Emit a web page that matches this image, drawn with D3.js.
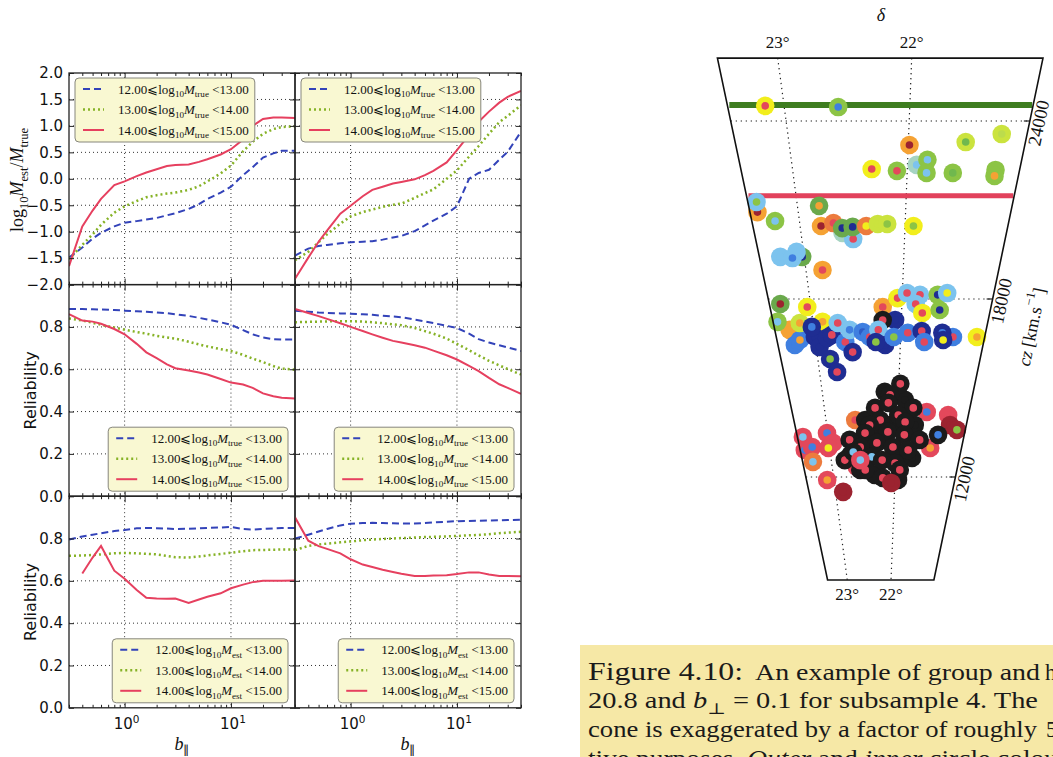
<!DOCTYPE html>
<html><head><meta charset="utf-8">
<script src="https://cdn.jsdelivr.net/npm/d3@7/dist/d3.min.js"></script>
<style>html,body{margin:0;padding:0;background:#fff;}svg{display:block;}</style>
</head><body>
<svg id="fig" width="1053" height="757"></svg>
<script>
// ================= DATA =================
const bPar=[0.3,0.4,0.5,0.6,0.8,1,1.3,1.6,2,2.5,3,4,5,6,8,10,13,16,20,25,30,40];
const massBins=["12.00","13.00","14.00","15.00"];

// log10 Mest/Mtrue  (left / right)
const ratioL_12=[-1.49,-1.3,-1.13,-1.02,-0.9,-0.83,-0.8,-0.77,-0.74,-0.69,-0.65,-0.57,-0.48,-0.38,-0.26,-0.15,0.07,0.22,0.4,0.48,0.53,0.53];
const ratioL_13=[-1.52,-1.25,-1.05,-0.87,-0.64,-0.52,-0.42,-0.35,-0.31,-0.28,-0.26,-0.21,-0.14,-0.05,0.1,0.25,0.52,0.7,0.85,0.94,0.98,0.99];
const ratioL_14=[-1.65,-0.9,-0.6,-0.38,-0.12,-0.05,0.05,0.12,0.18,0.24,0.26,0.27,0.32,0.37,0.46,0.56,0.74,1.0,1.13,1.16,1.16,1.15];
const ratioR_12=[-1.45,-1.32,-1.27,-1.25,-1.22,-1.2,-1.19,-1.18,-1.15,-1.11,-1.08,-0.99,-0.88,-0.79,-0.66,-0.52,0.0,0.11,0.17,0.36,0.51,0.89];
const ratioR_13=[-1.54,-1.38,-1.2,-1.05,-0.85,-0.71,-0.63,-0.58,-0.53,-0.49,-0.47,-0.36,-0.27,-0.2,0.0,0.16,0.42,0.62,0.85,1.07,1.19,1.39];
const ratioR_14=[-1.89,-1.49,-1.19,-0.98,-0.66,-0.51,-0.33,-0.21,-0.15,-0.09,-0.06,-0.01,0.07,0.15,0.31,0.54,0.83,1.08,1.27,1.44,1.55,1.66];

// Reliability, binned in Mtrue
const relTrueL_12=[0.885,0.885,0.883,0.882,0.88,0.877,0.874,0.872,0.868,0.865,0.86,0.852,0.843,0.835,0.822,0.81,0.785,0.765,0.75,0.742,0.74,0.74];
const relTrueL_13=[0.84,0.83,0.82,0.81,0.797,0.787,0.776,0.768,0.758,0.75,0.745,0.73,0.717,0.708,0.695,0.686,0.668,0.65,0.634,0.615,0.603,0.598];
const relTrueL_14=[0.86,0.83,0.825,0.815,0.79,0.765,0.72,0.68,0.652,0.623,0.605,0.594,0.585,0.575,0.554,0.537,0.528,0.512,0.486,0.472,0.465,0.462];
const relTrueR_12=[0.877,0.872,0.868,0.866,0.864,0.862,0.86,0.857,0.853,0.849,0.846,0.835,0.826,0.818,0.805,0.795,0.768,0.742,0.726,0.713,0.703,0.686];
const relTrueR_13=[0.822,0.824,0.825,0.826,0.827,0.827,0.825,0.822,0.818,0.812,0.808,0.795,0.78,0.768,0.745,0.72,0.69,0.665,0.64,0.618,0.601,0.575];
const relTrueR_14=[0.885,0.866,0.851,0.838,0.817,0.8,0.781,0.765,0.749,0.734,0.726,0.713,0.702,0.688,0.666,0.646,0.616,0.591,0.559,0.529,0.512,0.484];

// Reliability, binned in Mest
const relEstL_12=[0.795,0.81,0.818,0.825,0.835,0.84,0.848,0.85,0.849,0.847,0.845,0.846,0.848,0.85,0.852,0.855,0.845,0.842,0.845,0.848,0.85,0.85];
const relEstL_13=[0.718,0.72,0.722,0.725,0.73,0.732,0.73,0.728,0.725,0.718,0.712,0.71,0.715,0.72,0.727,0.733,0.74,0.745,0.746,0.747,0.748,0.748];
const relEstL_14=[null,0.635,0.71,0.765,0.648,0.61,0.557,0.52,0.516,0.515,0.516,0.496,0.512,0.525,0.541,0.565,0.582,0.594,0.6,0.6,0.6,0.602];
const relEstR_12=[0.8,0.818,0.833,0.845,0.862,0.87,0.873,0.874,0.873,0.872,0.871,0.871,0.873,0.876,0.879,0.882,0.883,0.884,0.885,0.886,0.887,0.889];
const relEstR_13=[0.745,0.765,0.772,0.776,0.782,0.786,0.792,0.795,0.798,0.8,0.802,0.805,0.807,0.808,0.81,0.812,0.815,0.817,0.82,0.825,0.828,0.832];
const relEstR_14=[0.9,0.79,0.764,0.751,0.73,0.702,0.677,0.665,0.652,0.642,0.634,0.623,0.623,0.625,0.627,0.632,0.64,0.64,0.63,0.623,0.623,0.622];

const yTicksRatio=[-2,-1.5,-1,-0.5,0,0.5,1,1.5,2];
const yTicksRel=[0,0.2,0.4,0.6,0.8,1];
const xMajor=[1,10];
const xMinor=[0.3,0.4,0.5,0.6,0.7,0.8,0.9,2,3,4,5,6,7,8,9,20,30,40];

// Cone diagram
const coneDecTicks=[23,22];
const coneCzTicks=[24000,18000,12000];
const coneDecRange=[23.45,21.02];
const coneCzRange=[8530,26120];
const boundaryCz=[24540,21480];
const coneColors={Y:"#f2ee1c",L:"#cbe33e",L2:"#bcdc4c",G:"#8cc445",G2:"#70b84e",DG:"#6aa94c",T:"#a6d4c2",
  O:"#f5a234",DO:"#ec7b3e",R:"#e3485b",DR:"#9c2330",LB:"#7cc3ee",B:"#3f7fe0",B2:"#2d5cc6",NB:"#1f2d92",K:"#1b1b1b"};
// [declination, cz, outer colour, inner colour]
const coneGroups=[
 [23.15,24510,"Y","R"],[22.57,24470,"G","B"],
 [21.99,23190,"O","DR"],[21.23,23560,"L","L2"],[21.52,23290,"L","G2"],
 [22.31,22380,"Y","R"],[22.09,22320,"G","R"],[21.92,22520,"T","LB"],[21.83,22690,"G","LB"],[21.83,22250,"G","LB"],
 [21.60,22250,"G","G2"],[21.23,22350,"G","G"],[21.23,22150,"G","O"],
 [23.38,20930,"O","DR"],[23.37,21270,"LB","G"],[23.23,20630,"G","LB"],[22.80,21140,"DG","O"],
 [22.60,20230,"T","R"],[22.50,20020,"LB","R"],[22.80,20460,"O","DR"],[22.68,20560,"DO","R"],
 [22.60,20390,"DG","NB"],[22.50,20430,"DG","NB"],[22.37,20460,"DO","Y"],[22.26,20530,"L","L"],[22.17,20530,"L","G"],[21.92,20460,"Y","G"],
 [23.02,19420,"DG","NB"],[23.24,19420,"LB","LB"],[23.07,19590,"LB","LB"],[23.12,19380,"LB","B"],[22.83,18980,"O","R"],
 [23.33,17830,"DG","DR"],[23.28,16960,"O","O"],[23.40,17230,"G","LB"],[23.25,16450,"B","B"],[23.18,16620,"B","O"],
 [23.15,17190,"L","O"],[23.04,17730,"Y","R"],[22.89,17230,"Y","O"],[23.00,16720,"NB","NB"],[22.96,16380,"NB","NB"],
 [23.02,17060,"NB","B"],[22.86,16690,"NB","NB"],[22.80,16790,"NB","R"],[22.72,17190,"LB","R"],[22.65,16550,"B","R"],
 [22.59,16960,"LB","B"],[22.57,16210,"NB","R"],[22.85,15980,"NB","G"],[22.78,15540,"NB","R"],[22.44,16890,"B","B2"],
 [22.36,16720,"B","R"],[22.21,17730,"O","R"],[22.07,17290,"NB","NB"],[22.21,17290,"K","R"],[22.26,16960,"LB","R"],
 [22.18,16450,"NB","NB"],[22.29,16550,"NB","G"],[22.05,18030,"Y","R"],[21.95,18200,"LB","R"],[21.81,18140,"LB","R"],
 [21.85,17830,"LB","R"],[21.77,17530,"Y","R"],[22.08,16720,"B","G"],[21.92,16860,"B","R"],[21.76,16920,"NB","R"],
 [21.72,16550,"B","R"],[21.58,17630,"G","NB"],[21.62,18140,"G","NB"],[21.52,18200,"LB","Y"],[21.39,16720,"B","R"],
 [21.52,16860,"NB","B"],[21.50,16620,"NB","Y"],[21.11,16720,"Y","O"],
 [23.37,13350,"R","LB"],[23.38,12910,"R","B"],[23.26,13010,"R","B"],[23.29,12510,"DO","LB"],[23.01,13480,"R","B"],
 [22.94,13150,"R","R"],[23.02,12980,"R","Y"],[23.11,11900,"R","O"],[22.87,11500,"DR","DR"],[22.59,13920,"DO","R"],
 [21.60,14190,"R","B"],[21.30,14090,"R","R"],[21.25,13750,"DR","DR"],[21.14,13590,"DR","G"],[21.49,12980,"R","O"],
 [22.61,12340,"R","R"],
 [22.45,13920,"K","K"],[22.10,13750,"K","K"],[21.75,13750,"K","K"],[22.39,13080,"K","K"],[21.94,12740,"K","K"],
 [21.75,12640,"K","K"],[22.56,12240,"K","K"],[22.33,12070,"K","K"],[21.95,11900,"K","K"],[22.18,14870,"K","K"],
 [21.91,14600,"K","K"],[22.70,12740,"K","K"],[22.24,13420,"K","K"],
 [21.98,15140,"K","R"],[22.11,14770,"K","R"],[22.31,14330,"K","R"],[22.13,14500,"K","R"],[21.79,14330,"K","R"],
 [21.99,14090,"K","R"],[22.24,13920,"K","R"],[21.89,13855,"K","R"],[22.39,13750,"K","R"],[22.46,13480,"K","R"],
 [22.13,13520,"K","R"],[21.89,13420,"K","R"],[21.66,13250,"K","R"],[22.69,13250,"K","R"],[22.29,13150,"K","R"],
 [22.05,13010,"K","R"],[21.82,12910,"K","R"],[22.54,13010,"K","R"],[22.79,12570,"K","R"],[22.65,12840,"K","LB"],
 [22.37,12680,"K","LB"],[22.21,12570,"K","R"],[22.01,12470,"K","R"],[22.48,12240,"K","R"],[21.93,12240,"K","R"],
 [22.20,11970,"K","R"],[21.40,13420,"K","B"],[22.55,12570,"R","LB"],[22.06,11800,"DR","DR"]
];

// ================= DRAW =================
const svg=d3.select("#fig");
const serif="'Liberation Serif','DejaVu Serif',serif";
const sans="'DejaVu Sans',sans-serif";

function rich(t,parts,base){
  let cur=0;
  parts.forEach(p=>{
    const s=p.sub?base*0.28:(p.sup?-base*0.42:0);
    const ts=t.append("tspan").text(p.t);
    if(s-cur!==0) ts.attr("dy",s-cur);
    cur=s;
    if(p.sub||p.sup) ts.attr("font-size",base*0.7);
    if(p.it) ts.attr("font-style","italic");
  });
}

const colX=[69,295], pw=226, rowY=[73,284.6,496.2], ph=211.6;
const seriesStyle=[{c:"#3343b9",dash:"7,4",w:2},{c:"#86b226",dash:"2,3",w:2.5},{c:"#e6405f",dash:null,w:2}];
const panels=[
 {r:0,c:0,dom:[-2,2],ticks:yTicksRatio,data:[ratioL_12,ratioL_13,ratioL_14],leg:"true",legAt:"tl"},
 {r:0,c:1,dom:[-2,2],ticks:yTicksRatio,data:[ratioR_12,ratioR_13,ratioR_14],leg:"true",legAt:"tl"},
 {r:1,c:0,dom:[0,1],ticks:yTicksRel,data:[relTrueL_12,relTrueL_13,relTrueL_14],leg:"true",legAt:"br"},
 {r:1,c:1,dom:[0,1],ticks:yTicksRel,data:[relTrueR_12,relTrueR_13,relTrueR_14],leg:"true",legAt:"br"},
 {r:2,c:0,dom:[0,1],ticks:yTicksRel,data:[relEstL_12,relEstL_13,relEstL_14],leg:"est",legAt:"br"},
 {r:2,c:1,dom:[0,1],ticks:yTicksRel,data:[relEstR_12,relEstR_13,relEstR_14],leg:"est",legAt:"br"}
];
const fmt=d3.format(".1f");

panels.forEach((p,pi)=>{
  const x0=colX[p.c], y0=rowY[p.r];
  const x=d3.scaleLog().domain([0.3,40]).range([x0,x0+pw]);
  const y=d3.scaleLinear().domain(p.dom).range([y0+ph,y0]);
  const g=svg.append("g");
  const cid="clip"+pi;
  svg.append("clipPath").attr("id",cid).append("rect").attr("x",x0).attr("y",y0).attr("width",pw).attr("height",ph);
  // grid
  g.selectAll(".vg").data(xMajor).join("line").attr("x1",d=>x(d)).attr("x2",d=>x(d)).attr("y1",y0).attr("y2",y0+ph)
    .attr("stroke","#333").attr("stroke-width",1).attr("stroke-dasharray","1,3");
  g.selectAll(".hg").data(p.ticks.filter(t=>t>p.dom[0]&&t<p.dom[1])).join("line").attr("x1",x0).attr("x2",x0+pw)
    .attr("y1",d=>y(d)).attr("y2",d=>y(d)).attr("stroke","#333").attr("stroke-width",1).attr("stroke-dasharray","1,3");
  // series
  const line=d3.line().defined(d=>d[1]!=null).x(d=>x(d[0])).y(d=>y(d[1]));
  p.data.forEach((s,i)=>{
    const st=seriesStyle[i];
    g.append("path").attr("clip-path",`url(#${cid})`).attr("d",line(bPar.map((b,j)=>[b,s[j]])))
      .attr("fill","none").attr("stroke",st.c).attr("stroke-width",st.w).attr("stroke-dasharray",st.dash);
  });
  // axes
  const ax=(axis,tx,ty)=>{const a=g.append("g").attr("transform",`translate(${tx},${ty})`).attr("color","#222").call(axis);
      a.select(".domain").remove(); return a;};
  const showY=p.c===0;
  const yl=ax(d3.axisLeft(y).tickValues(p.ticks).tickSize(-5).tickPadding(6)
      .tickFormat(d=>(!showY||(p.dom[1]===1&&d===1))?"":fmt(d)),x0,0);
  yl.selectAll("text").attr("font-family",sans).attr("font-size",15).attr("fill","#111");
  ax(d3.axisRight(y).tickValues(p.ticks).tickSize(-5).tickFormat(""),x0+pw,0);
  ax(d3.axisBottom(x).tickValues(xMajor).tickSize(-6).tickFormat(""),0,y0+ph);
  ax(d3.axisBottom(x).tickValues(xMinor).tickSize(-3).tickFormat(""),0,y0+ph);
  ax(d3.axisTop(x).tickValues(xMajor).tickSize(-6).tickFormat(""),0,y0);
  ax(d3.axisTop(x).tickValues(xMinor).tickSize(-3).tickFormat(""),0,y0);
  if(p.r===2){
    xMajor.forEach(v=>{
      const t=g.append("text").attr("x",x(v)+2).attr("y",729).attr("text-anchor","middle")
        .attr("font-family",sans).attr("font-size",15).attr("fill","#111");
      rich(t,[{t:"10"},{t:String(Math.round(Math.log10(v))),sup:1}],15);
    });
    const bl=g.append("text").attr("x",x0+pw/2).attr("y",750).attr("text-anchor","middle")
      .attr("font-family",serif).attr("font-size",18).attr("fill","#111");
    rich(bl,[{t:"b",it:1},{t:"∥",sub:1}],18);
  }
  // frame
  g.append("rect").attr("x",x0).attr("y",y0).attr("width",pw).attr("height",ph)
    .attr("fill","none").attr("stroke","#222").attr("stroke-width",1.3);
  // legend
  const lg=svg.append("g");
  const texts=[0,1,2].map(i=>{
    const t=lg.append("text").attr("font-family",serif).attr("font-size",13).attr("fill","#111");
    rich(t,[{t:massBins[i]+"⩽log"},{t:"10",sub:1},{t:"M",it:1},{t:p.leg,sub:1},{t:" <"+massBins[i+1]}],13);
    return t;
  });
  const tw=d3.max(texts,t=>t.node().getComputedTextLength());
  const bw=43+tw+6, bh=64;
  const bx=p.legAt==="tl"?x0+6:x0+pw-7-bw;
  const by=p.legAt==="tl"?y0+5:y0+ph-5-bh;
  lg.insert("rect",":first-child").attr("x",bx).attr("y",by).attr("width",bw).attr("height",bh).attr("rx",4)
    .attr("fill","#f9f8d2").attr("stroke","#86867c").attr("stroke-width",1);
  texts.forEach((t,i)=>t.attr("x",bx+43).attr("y",by+15.5+i*20.5));
  seriesStyle.forEach((st,i)=>{
    lg.append("line").attr("x1",bx+8).attr("x2",bx+29).attr("y1",by+11+i*20.5).attr("y2",by+11+i*20.5)
      .attr("stroke",st.c).attr("stroke-width",st.w).attr("stroke-dasharray",st.dash);
  });
});

// y labels
{
  const t=svg.append("text").attr("transform","translate(23,180) rotate(-90)").attr("text-anchor","middle")
    .attr("font-family",serif).attr("font-size",18).attr("fill","#111");
  rich(t,[{t:"log"},{t:"10",sub:1},{t:"M",it:1},{t:"est",sub:1},{t:"/"},{t:"M",it:1},{t:"true",sub:1}],18);
  [rowY[1]+ph/2,rowY[2]+ph/2].forEach(cy=>{
    svg.append("text").attr("transform",`translate(36,${cy}) rotate(-90)`).attr("text-anchor","middle")
      .attr("font-family",sans).attr("font-size",16).attr("fill","#111").text("Reliability");
  });
}

// ================= CONE =================
{
  const cg=svg.append("g");
  const czY=d3.scaleLinear().domain([0,24000]).range([833,121]);
  const decSlope=d3.scaleLinear().domain([22,23]).range([0.0396,-0.1333]);
  const apexX=881;
  const proj=(dec,cz)=>{const yy=czY(cz);return [apexX+decSlope(dec)*(czY(0)-yy),yy];};
  const [dHi,dLo]=coneDecRange, [cLo,cHi]=coneCzRange;
  // grid
  coneDecTicks.forEach(d=>{
    const a=proj(d,cHi), b=proj(d,cLo);
    cg.append("line").attr("x1",a[0]).attr("y1",a[1]).attr("x2",b[0]).attr("y2",b[1])
      .attr("stroke","#222").attr("stroke-width",1.2).attr("stroke-dasharray","1.3,3.7");
    cg.append("text").attr("x",a[0]).attr("y",48).attr("text-anchor","middle").attr("font-family",serif)
      .attr("font-size",17).attr("fill","#111").text(d+"°");
    cg.append("text").attr("x",b[0]).attr("y",600).attr("text-anchor","middle").attr("font-family",serif)
      .attr("font-size",17).attr("fill","#111").text(d+"°");
  });
  const eTop=proj(dLo,cHi), eBot=proj(dLo,cLo);
  const ang=Math.atan2(eTop[1]-eBot[1],eTop[0]-eBot[0])*180/Math.PI;
  coneCzTicks.forEach(c=>{
    const a=proj(dHi,c), b=proj(dLo,c);
    cg.append("line").attr("x1",a[0]).attr("y1",a[1]).attr("x2",b[0]).attr("y2",b[1])
      .attr("stroke","#222").attr("stroke-width",1.2).attr("stroke-dasharray","1.3,3.7");
    cg.append("line").attr("x1",b[0]-6).attr("y1",b[1]).attr("x2",b[0]).attr("y2",b[1]).attr("stroke","#222").attr("stroke-width",1.2);
    cg.append("text").attr("transform",`translate(${b[0]+9},${b[1]+2}) rotate(${ang})`).attr("text-anchor","middle")
      .attr("dominant-baseline","central").attr("font-family",serif).attr("font-size",18.5).attr("fill","#111").text(c);
  });
  {
    const b=proj(dLo,17060);
    const t=cg.append("text").attr("transform",`translate(${b[0]+45},${b[1]}) rotate(${ang})`).attr("text-anchor","middle")
      .attr("dominant-baseline","central").attr("font-family",serif).attr("font-size",18).attr("fill","#111");
    rich(t,[{t:"cz",it:1},{t:" [km.s"},{t:"−1",sup:1},{t:"]"}],18);
  }
  cg.append("text").attr("x",apexX).attr("y",21).attr("text-anchor","middle").attr("font-family",serif)
    .attr("font-style","italic").attr("font-size",18).attr("fill","#111").text("δ");
  // boundaries
  const bCol=["#3e7d20","#e2425c"], bW=[6,5];
  boundaryCz.forEach((c,i)=>{
    const a=proj(dHi,c), b=proj(dLo,c);
    cg.append("line").attr("x1",a[0]+2).attr("y1",a[1]).attr("x2",b[0]-1).attr("y2",b[1])
      .attr("stroke",bCol[i]).attr("stroke-width",bW[i]);
  });
  // groups
  const gg=cg.append("g");
  coneGroups.forEach(d=>{
    const [px,py]=proj(d[0],d[1]);
    gg.append("circle").attr("cx",px).attr("cy",py).attr("r",9.3).attr("fill",coneColors[d[2]]);
    gg.append("circle").attr("cx",px).attr("cy",py).attr("r",3.8).attr("fill",coneColors[d[3]]);
  });
  // outline
  const corners=[proj(dHi,cHi),proj(dLo,cHi),proj(dLo,cLo),proj(dHi,cLo)];
  cg.append("path").attr("d",d3.line()(corners)+"Z").attr("fill","none").attr("stroke","#111").attr("stroke-width",1.6);
}

// ================= CAPTION =================
{
  const cp=svg.append("g");
  cp.append("rect").attr("x",580).attr("y",645).attr("width",480).attr("height",120).attr("fill","#f6e8a6");
  const T=(x,y,s,size,len)=>{const t=cp.append("text").attr("x",x).attr("y",y).attr("font-family",serif)
      .attr("font-size",size).attr("fill","#1a1a1a");
      if(typeof s==="string") t.text(s); else rich(t,s,size);
      if(len) t.attr("textLength",len).attr("lengthAdjust","spacingAndGlyphs"); return t;};
  T(588,680,"Figure 4.10:",25,155);
  T(755,680,"An example of group and",22.5,285);
  T(1045,680,"h",22.5);
  T(588,708,[{t:"20.8 and "},{t:"b",it:1},{t:"⊥",sub:1},{t:" = 0.1 for subsample 4.  The"}],22.5,450);
  T(588,737,"cone is exaggerated by a factor of roughly",22.5,449);
  T(1046,737,"5",22.5);
  T(588,766,[{t:"tive purposes. "},{t:"Outer",it:1},{t:" and "},{t:"inner",it:1},{t:" circle colou"}],22.5,470);
}
</script>
</body></html>
